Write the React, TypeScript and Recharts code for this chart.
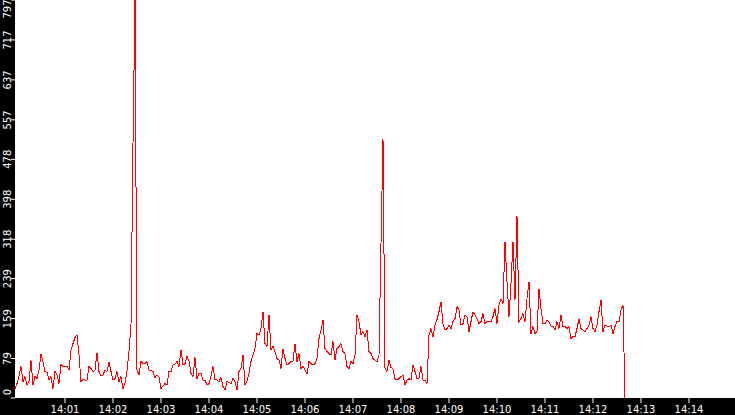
import { LineChart, Line, XAxis, YAxis, CartesianGrid } from "recharts";

// one sample every 2.5 s
const rate = [
  19, 29, 44, 63, 33, 43, 26, 33, 75, 26,
  43, 39, 56, 88, 73, 53, 51, 36, 43, 19,
  53, 46, 29, 67, 63, 63, 63, 56, 96, 109,
  121, 126, 86, 33, 37, 36, 36, 63, 59, 53,
  56, 91, 53, 44, 46, 56, 53, 71, 53, 36,
  39, 53, 33, 43, 19, 29, 53, 93, 146, 510,
  797, 56, 46, 73, 69, 69, 73, 56, 56, 53,
  41, 46, 43, 19, 24, 29, 26, 53, 53, 66,
  68, 73, 63, 97, 66, 69, 83, 74, 49, 43,
  81, 39, 49, 49, 36, 36, 26, 29, 43, 63,
  37, 36, 33, 41, 23, 16, 33, 31, 29, 39,
  33, 16, 53, 59, 86, 26, 33, 49, 73, 86,
  99, 129, 126, 139, 173, 109, 103, 166, 96, 103,
  93, 79, 76, 59, 99, 79, 66, 69, 73, 73,
  109, 73, 89, 59, 63, 56, 48, 73, 69, 66,
  69, 79, 119, 136, 156, 99, 93, 89, 86, 113,
  76, 99, 103, 109, 93, 89, 63, 59, 73, 69,
  86, 166, 153, 126, 133, 123, 136, 93, 89, 79,
  76, 73, 86, 310, 518, 60, 53, 76, 61, 59,
  39, 36, 39, 43, 46, 26, 36, 39, 36, 66,
  53, 39, 39, 63, 36, 36, 29, 126, 139, 123,
  146, 157, 173, 193, 149, 136, 139, 146, 139, 153,
  159, 183, 176, 146, 149, 166, 163, 133, 153, 173,
  166, 159, 149, 153, 169, 149, 153, 153, 153, 163,
  179, 149, 186, 199, 189, 313, 233, 163, 229, 313,
  196, 364, 153, 159, 169, 153, 199, 233, 129, 143,
  129, 133, 219, 179, 149, 149, 156, 153, 144, 143,
  136, 153, 139, 166, 143, 143, 139, 143, 119, 123,
  123, 139, 159, 139, 136, 133, 139, 146, 163, 139,
  133, 146, 173, 196, 133, 146, 144, 143, 146, 129,
  143, 153, 153, 176, 186, 0,
];

// seconds after 14:00:00
const firstSample = -2.5;
const sampleStep = 2.5;
const timeDomain = [-2.5, 897.5];

const minuteTicks = [60, 120, 180, 240, 300, 360, 420, 480, 540, 600, 660, 720, 780, 840];
const minuteLabels = [
  "14:01", "14:02", "14:03", "14:04", "14:05", "14:06", "14:07",
  "14:08", "14:09", "14:10", "14:11", "14:12", "14:13", "14:14",
];

const valueTicks = [0, 79, 159, 239, 318, 398, 478, 557, 637, 717, 797];

const data = rate.map((v, i) => ({ t: firstSample + i * sampleStep, v }));

const font = "DejaVu Sans";

function YTick(props: any) {
  const { y, payload } = props;
  const cy = Math.min(Math.max(y, 9), 392);
  return (
    <text
      transform={`translate(10.5, ${cy}) rotate(-90)`}
      textAnchor="middle"
      fill="#fff"
      fontSize={10}
      fontFamily={font}
    >
      {payload.value}
    </text>
  );
}

export default function App() {
  return (
    <div style={{ position: "absolute", left: 0, top: 0, width: 735, height: 415, background: "#000" }}>
      <LineChart width={735} height={415} data={data} margin={{ top: 0, right: 0, bottom: 0, left: 0 }}>
        <CartesianGrid fill="#fff" horizontal={false} vertical={false} />
        <XAxis
          dataKey="t"
          type="number"
          domain={timeDomain}
          ticks={minuteTicks}
          tickFormatter={(t: number) => minuteLabels[minuteTicks.indexOf(t)] ?? ""}
          height={17}
          axisLine={false}
          tickLine={{ stroke: "#fff" }}
          tickSize={5}
          tickMargin={3}
          tick={{ fill: "#fff", fontSize: 10, fontFamily: font }}
          interval={0}
          allowDataOverflow
        />
        <YAxis
          type="number"
          domain={[0, 797]}
          ticks={valueTicks}
          width={15}
          axisLine={false}
          tickLine={{ stroke: "#fff" }}
          tickSize={4}
          tick={<YTick />}
          interval={0}
          allowDataOverflow
        />
        <Line
          type="linear"
          dataKey="v"
          stroke="#ff0000"
          strokeWidth={1}
          shapeRendering="crispEdges"
          dot={false}
          isAnimationActive={false}
        />
      </LineChart>
    </div>
  );
}
